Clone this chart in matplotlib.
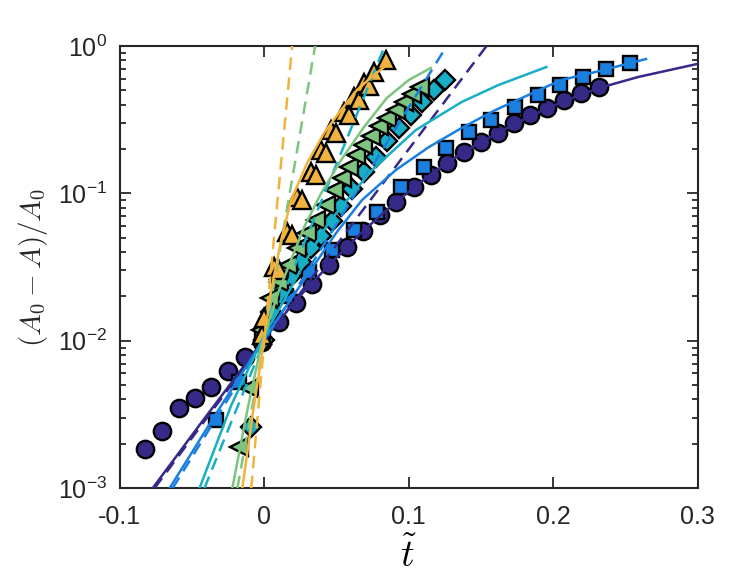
import matplotlib
matplotlib.use("Agg")
import matplotlib.pyplot as plt
import numpy as np

# ---- data ----
t_circ = [-0.0828, -0.0710, -0.0593, -0.0476, -0.0366, -0.0248, -0.0131, -0.0014,
          0.0103, 0.0221, 0.0331, 0.0448, 0.0572, 0.0683, 0.0800, 0.0910, 0.1034,
          0.1152, 0.1262, 0.1379, 0.1497, 0.1614, 0.1731, 0.1841, 0.1959, 0.2076,
          0.2193, 0.2317]
y_circ = [1.84e-3, 2.44e-3, 3.49e-3, 4.08e-3, 4.84e-3, 6.22e-3, 7.75e-3, 9.79e-3,
          1.34e-2, 1.80e-2, 2.43e-2, 3.27e-2, 4.32e-2, 5.55e-2, 7.13e-2, 8.73e-2,
          0.110, 0.133, 0.161, 0.191, 0.223, 0.257, 0.300, 0.340, 0.379, 0.430,
          0.480, 0.527]

t_sq = [-0.0331, -0.0172, -0.0014, 0.0152, 0.0310, 0.0469, 0.0621, 0.0779, 0.0945,
        0.1103, 0.1255, 0.1414, 0.1572, 0.1738, 0.1897, 0.2048, 0.2207, 0.2366, 0.2531]
y_sq = [2.90e-3, 5.24e-3, 1.05e-2, 2.01e-2, 2.92e-2, 4.12e-2, 5.64e-2, 7.47e-2, 0.110,
        0.151, 0.203, 0.261, 0.315, 0.385, 0.465, 0.544, 0.616, 0.698, 0.767]

t_dia = [-0.0090, 0.0000, 0.0048, 0.0117, 0.0186, 0.0255, 0.0324, 0.0393, 0.0469,
         0.0531, 0.0607, 0.0690, 0.0772, 0.0848, 0.0931, 0.1014, 0.1090, 0.1172, 0.1248]
y_dia = [2.59e-3, 1.01e-2, 1.57e-2, 2.14e-2, 2.75e-2, 3.42e-2, 4.26e-2, 5.13e-2, 6.49e-2,
         8.20e-2, 0.107, 0.140, 0.177, 0.227, 0.278, 0.340, 0.417, 0.503, 0.588]

t_left = [-0.0172, -0.0103, -0.0021, 0.0041, 0.0103, 0.0166, 0.0228, 0.0297, 0.0359,
          0.0428, 0.0483, 0.0538, 0.0586, 0.0634, 0.0683, 0.0738, 0.0793, 0.0848,
          0.0910, 0.0966, 0.1021, 0.1076]
y_left = [1.90e-3, 4.77e-3, 1.18e-2, 1.95e-2, 2.50e-2, 3.27e-2, 4.26e-2, 5.38e-2, 6.59e-2,
          8.33e-2, 0.105, 0.127, 0.151, 0.182, 0.213, 0.245, 0.286, 0.325, 0.368,
          0.417, 0.472, 0.527]

t_up = [-0.0014, 0.0000, 0.0069, 0.0103, 0.0159, 0.0193, 0.0228, 0.0262, 0.0324, 0.0359,
        0.0393, 0.0428, 0.0462, 0.0497, 0.0552, 0.0586, 0.0621, 0.0655, 0.0690,
        0.0724, 0.0759, 0.0841]
y_up = [1.09e-2, 1.43e-2, 3.16e-2, 3.02e-2, 5.47e-2, 5.21e-2, 9.44e-2, 9.01e-2, 0.140, 0.133,
        0.197, 0.188, 0.269, 0.257, 0.356, 0.340, 0.451, 0.430, 0.561, 0.535,
        0.666, 0.803]

# solid fits
fit_purple_t = [-0.0772, -0.0448, -0.0172, -0.0007, 0.0221, 0.0448, 0.0683, 0.0910, 0.1152,
                0.1379, 0.1614, 0.1841, 0.2076, 0.2317, 0.2586, 0.3000]
fit_purple_y = [1.0e-3, 2.68e-3, 6.13e-3, 1.01e-2, 1.89e-2, 3.27e-2, 5.55e-2, 8.73e-2, 0.135,
                0.191, 0.257, 0.335, 0.423, 0.519, 0.616, 0.757]
fit_blue_t = [-0.0655, -0.0331, -0.0007, 0.0241, 0.0497, 0.0676, 0.0910, 0.1138, 0.1366,
              0.1600, 0.2055, 0.2290, 0.2641]
fit_blue_y = [1.0e-3, 3.23e-3, 1.01e-2, 2.31e-2, 5.38e-2, 9.01e-2, 0.144, 0.206, 0.278,
              0.368, 0.588, 0.666, 0.816]
fit_cyan_t = [-0.0448, -0.0228, 0.0000, 0.0138, 0.0297, 0.0448, 0.0745, 0.1048, 0.1366,
              0.1621, 0.1952]
fit_cyan_y = [1.0e-3, 3.66e-3, 1.09e-2, 1.89e-2, 3.64e-2, 6.39e-2, 0.144, 0.269, 0.417,
              0.544, 0.720]
fit_green_t = [-0.0221, -0.0117, -0.0021, 0.0103, 0.0276, 0.0393, 0.0531, 0.0690, 0.0848,
               0.1000, 0.1152]
fit_green_y = [1.0e-3, 3.38e-3, 9.35e-3, 2.21e-2, 5.91e-2, 0.100, 0.168, 0.282, 0.444,
               0.588, 0.709]
fit_orange_t = [-0.0152, -0.0076, -0.0007, 0.0048, 0.0117, 0.0186, 0.0297, 0.0414, 0.0531,
                0.0641, 0.0759, 0.0848]
fit_orange_y = [1.0e-3, 3.38e-3, 9.35e-3, 2.21e-2, 4.82e-2, 9.01e-2, 0.161, 0.257, 0.368,
                0.503, 0.636, 0.743]

# dashed lines (straight on the log axis)
exp_purple_t = [-0.0759, 0.0, 0.1538]
exp_blue_t = [-0.0634, 0.0, 0.1262]
exp_cyan_t = [-0.0414, 0.0, 0.0834]
exp_green_t = [-0.0186, 0.0, 0.0352]
exp_orange_t = [-0.0090, 0.0, 0.0193]
exp_y = [1.0e-3, 1.0e-2, 1.0]

c_purple = "#352a87"
c_blue = "#1a7fdf"
c_cyan = "#18aec6"
c_green = "#7cc47f"
c_orange = "#f1b33f"

plt.rcParams["font.family"] = ["Liberation Sans", "DejaVu Sans"]
plt.rcParams["mathtext.fontset"] = "custom"
plt.rcParams["mathtext.rm"] = "Liberation Sans"
plt.rcParams["mathtext.it"] = "Liberation Sans:italic"
plt.rcParams["axes.unicode_minus"] = False

fig = plt.figure(figsize=(7.3, 5.75), dpi=100)
ax = fig.add_axes([0.164, 0.151, 0.792, 0.769])

mk = dict(linestyle="none", markeredgecolor="black", markeredgewidth=1.7, zorder=2)
ax.plot(t_circ, y_circ, "o", color=c_purple, markersize=12.5, **mk)
ax.plot(t_sq, y_sq, "s", color=c_blue, markersize=10.5, **mk)
ax.plot(t_dia, y_dia, "D", color=c_cyan, markersize=10, **mk)
ax.plot(t_left, y_left, "<", color=c_green, markersize=13, **mk)
ax.plot(t_up, y_up, "^", color=c_orange, markersize=13, **mk)

lw = 1.8
dash = (0, (5, 3))
for tt, yy, c, te in [(fit_purple_t, fit_purple_y, c_purple, exp_purple_t),
                      (fit_blue_t, fit_blue_y, c_blue, exp_blue_t),
                      (fit_cyan_t, fit_cyan_y, c_cyan, exp_cyan_t),
                      (fit_green_t, fit_green_y, c_green, exp_green_t),
                      (fit_orange_t, fit_orange_y, c_orange, exp_orange_t)]:
    ax.plot(tt, yy, "-", color=c, linewidth=lw, zorder=3)
    ax.plot(te, exp_y, color=c, linewidth=lw, linestyle=dash, zorder=3)

ax.set_yscale("log")
ax.set_xlim(-0.1, 0.3)
ax.set_ylim(1e-3, 1)
ax.set_xticks([-0.1, 0, 0.1, 0.2, 0.3])
ax.set_xticklabels(["-0.1", "0", "0.1", "0.2", "0.3"])
ax.set_yticks([1e-3, 1e-2, 1e-1, 1])
ax.set_yticklabels([r"$10^{-3}$", r"$10^{-2}$", r"$10^{-1}$", r"$10^{0}$"])

dark = "#262626"
for s in ax.spines.values():
    s.set_linewidth(1.5)
    s.set_color(dark)
ax.tick_params(which="both", direction="in", top=True, right=True, colors=dark,
               labelsize=18, width=1.3)
ax.tick_params(which="major", length=8)
ax.tick_params(axis="x", which="major", pad=12)
ax.tick_params(axis="y", which="major", pad=9)
ax.tick_params(which="minor", length=4.5)
ax.minorticks_on()
ax.xaxis.set_minor_locator(matplotlib.ticker.NullLocator())

ax.set_xlabel(r"$\tilde{t}$", fontsize=27, math_fontfamily="cm", labelpad=6)
ax.set_ylabel(r"$(A_0-A)/A_0$", fontsize=21, math_fontfamily="cm", color=dark, labelpad=6)

fig.savefig("out.png", dpi=100)
